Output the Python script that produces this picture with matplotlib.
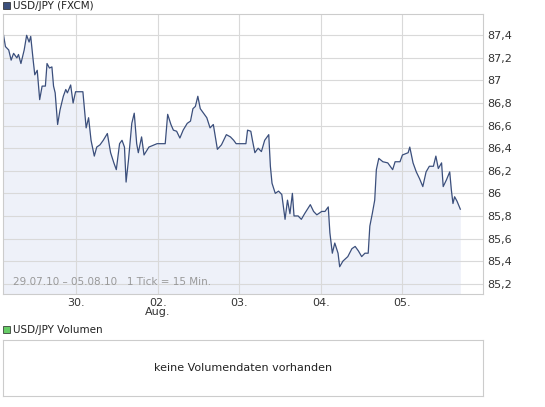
import matplotlib
matplotlib.use('Agg')
import matplotlib.pyplot as plt
import matplotlib.patches as mpatches

# Day position (1 = 30.07.), USD/JPY price
days = [0.10, 0.13, 0.17, 0.20, 0.23, 0.27, 0.29, 0.32, 0.36, 0.39, 0.42, 0.44, 0.47, 0.49, 0.52,
        0.55, 0.58, 0.62, 0.64, 0.67, 0.70, 0.72, 0.74, 0.77, 0.80, 0.84, 0.87, 0.89, 0.93, 0.96,
        0.99, 1.08, 1.10, 1.12, 1.15, 1.18, 1.22, 1.25, 1.29, 1.33, 1.38, 1.42, 1.46, 1.49, 1.53,
        1.56, 1.59, 1.61, 1.64, 1.68, 1.71, 1.74, 1.76, 1.80, 1.83, 1.89, 1.99, 2.09, 2.12, 2.16,
        2.19, 2.23, 2.27, 2.31, 2.36, 2.40, 2.43, 2.46, 2.49, 2.52, 2.56, 2.60, 2.64, 2.68, 2.70,
        2.73, 2.78, 2.84, 2.89, 2.93, 2.96, 3.00, 3.08, 3.10, 3.14, 3.16, 3.19, 3.23, 3.27, 3.31,
        3.36, 3.38, 3.40, 3.44, 3.48, 3.52, 3.56, 3.59, 3.62, 3.65, 3.67, 3.72, 3.76, 3.80, 3.87,
        3.91, 3.95, 4.01, 4.05, 4.09, 4.11, 4.14, 4.17, 4.21, 4.23, 4.27, 4.33, 4.38, 4.42, 4.46,
        4.50, 4.54, 4.58, 4.60, 4.63, 4.66, 4.68, 4.71, 4.76, 4.82, 4.88, 4.91, 4.97, 5.00, 5.07,
        5.09, 5.13, 5.17, 5.21, 5.25, 5.29, 5.33, 5.38, 5.41, 5.44, 5.48, 5.50, 5.54, 5.58, 5.60,
        5.62, 5.64, 5.67, 5.71]
prices = [87.43, 87.30, 87.27, 87.18, 87.24, 87.20, 87.23, 87.15, 87.27, 87.40, 87.34, 87.39, 87.18, 87.05, 87.09,
          86.83, 86.95, 86.95, 87.15, 87.11, 87.12, 86.95, 86.89, 86.61, 86.74, 86.86, 86.92, 86.89, 86.96, 86.80,
          86.90, 86.90, 86.74, 86.58, 86.67, 86.47, 86.33, 86.41, 86.43, 86.47, 86.53, 86.36, 86.27, 86.21, 86.44,
          86.47, 86.41, 86.10, 86.30, 86.62, 86.71, 86.44, 86.36, 86.50, 86.34, 86.41, 86.44, 86.44, 86.70, 86.61,
          86.56, 86.55, 86.49, 86.56, 86.62, 86.64, 86.75, 86.77, 86.86, 86.75, 86.71, 86.67, 86.58, 86.61, 86.52,
          86.39, 86.43, 86.52, 86.50, 86.47, 86.44, 86.44, 86.44, 86.56, 86.55, 86.47, 86.36, 86.40, 86.37, 86.47,
          86.52, 86.24, 86.09, 86.00, 86.02, 85.99, 85.77, 85.94, 85.82, 86.00, 85.80, 85.80, 85.77, 85.82, 85.90,
          85.84, 85.81, 85.84, 85.84, 85.88, 85.65, 85.47, 85.56, 85.47, 85.35, 85.40, 85.44, 85.51, 85.53, 85.49,
          85.44, 85.47, 85.47, 85.71, 85.82, 85.94, 86.21, 86.31, 86.28, 86.27, 86.21, 86.28, 86.28, 86.34, 86.36,
          86.41, 86.27, 86.19, 86.13, 86.06, 86.19, 86.24, 86.24, 86.33, 86.22, 86.27, 86.06, 86.12, 86.19, 86.03,
          85.91, 85.97, 85.93, 85.86]

x_ticks = [1, 2, 3, 4, 5]
x_labels = ['30.', '02.\nAug.', '03.', '04.', '05.']
y_ticks = [85.2, 85.4, 85.6, 85.8, 86.0, 86.2, 86.4, 86.6, 86.8, 87.0, 87.2, 87.4]
y_labels = ['85,2', '85,4', '85,6', '85,8', '86', '86,2', '86,4', '86,6', '86,8', '87', '87,2', '87,4']

line_col = '#3b4f7c'
grid_col = '#d9d9d9'

fig = plt.figure(figsize=(5.45, 4.07), dpi=100)
ax = fig.add_axes([0.0055, 0.278, 0.881, 0.688])
ymin = 85.11
ax.fill_between(days, prices, ymin, color='#eef1f9', lw=0)
ax.plot(days, prices, color=line_col, lw=0.9)
ax.set_xlim(0.1, 5.99)
ax.set_ylim(ymin, 87.59)
ax.set_xticks(x_ticks)
ax.set_xticklabels(x_labels, fontsize=8, color='#333333', linespacing=0.9)
ax.set_yticks(y_ticks)
ax.set_yticklabels(y_labels, fontsize=8, color='#333333')
ax.yaxis.tick_right()
ax.tick_params(length=0, pad=3)
ax.grid(True, color=grid_col, lw=0.8)
for s in ax.spines.values():
    s.set_color('#cccccc')
ax.text(0.02, 0.03, '29.07.10 \u2013 05.08.10   1 Tick = 15 Min.', transform=ax.transAxes,
        fontsize=7.5, color='#999999')

fig.patches.append(mpatches.Rectangle((3 / 545, 1 - 9 / 407), 7 / 545, 7 / 407,
                                      transform=fig.transFigure, fc=line_col, ec='#222222', lw=0.5))
fig.text(13 / 545, 1 - 6 / 407, 'USD/JPY (FXCM)', fontsize=7.5, va='center', color='#222222')

fig.patches.append(mpatches.Rectangle((3 / 545, 1 - 333 / 407), 7 / 545, 7 / 407,
                                      transform=fig.transFigure, fc='#66cc66', ec='#222222', lw=0.5))
fig.text(13 / 545, 1 - 330 / 407, 'USD/JPY Volumen', fontsize=7.5, va='center', color='#222222')

vax = fig.add_axes([3 / 545, 1 - 396 / 407, 480 / 545, 56 / 407])
vax.set_xticks([])
vax.set_yticks([])
for s in vax.spines.values():
    s.set_color('#cccccc')
vax.text(0.5, 0.5, 'keine Volumendaten vorhanden', ha='center', va='center', fontsize=8, color='#222222')

fig.savefig('out.png', dpi=100)
